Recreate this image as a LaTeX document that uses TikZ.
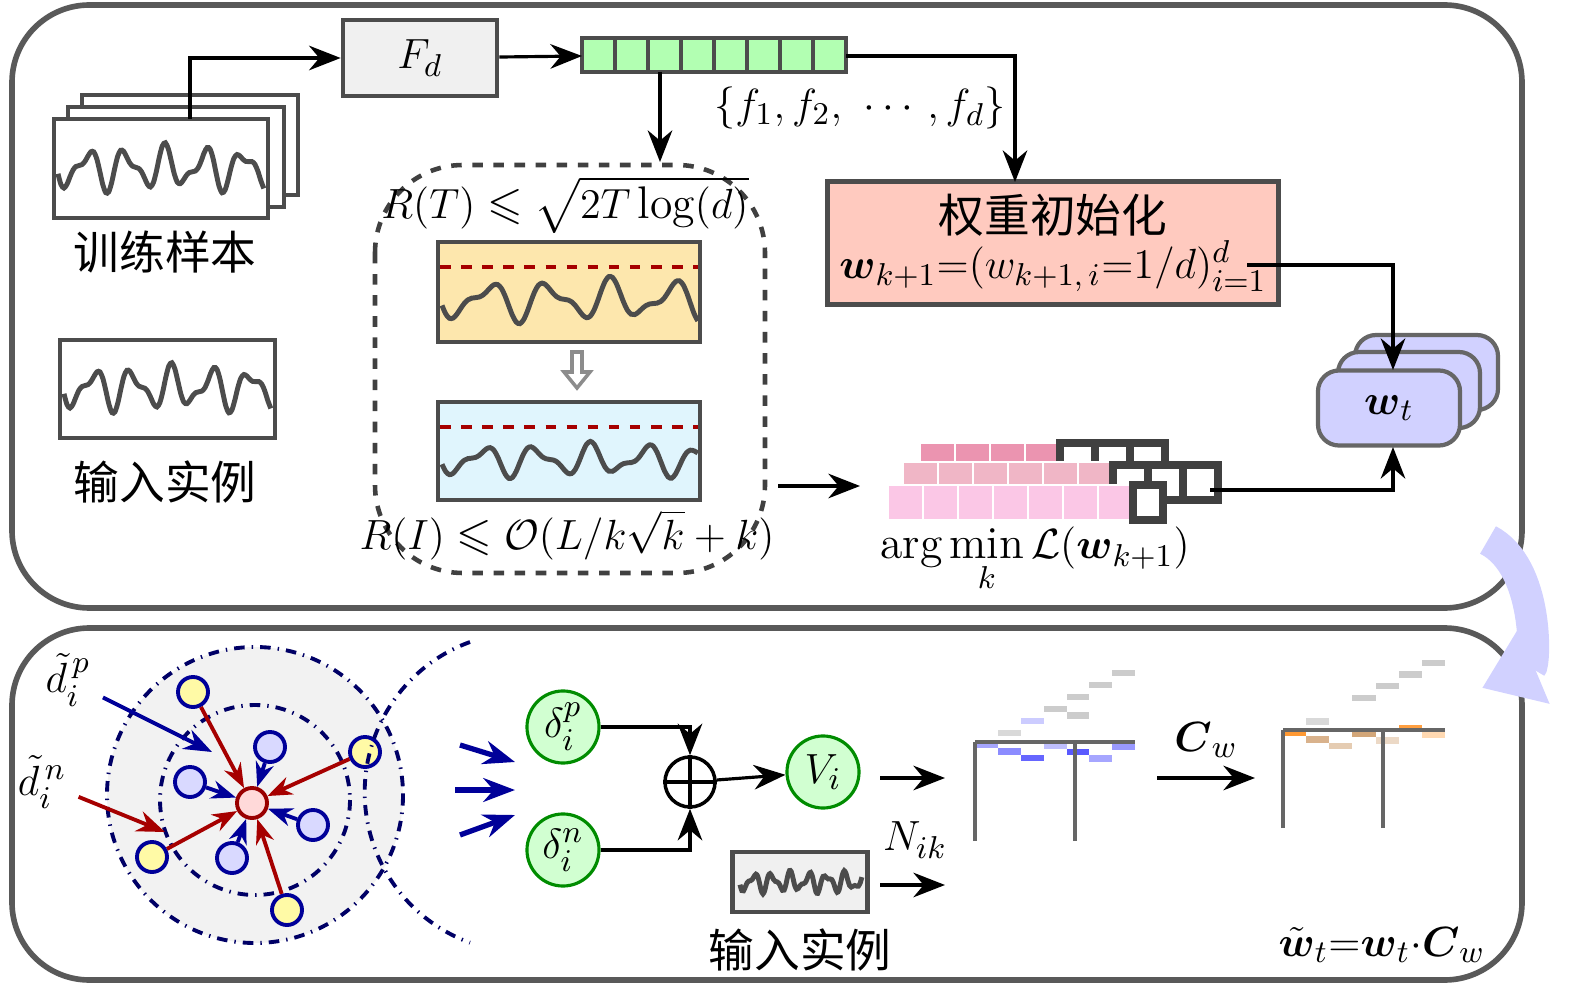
\documentclass[tikz,border=0pt]{standalone}
\usepackage{fontspec}
\newfontfamily\cjk{Noto Sans CJK SC}
\usepackage{amsmath,amssymb}
\usetikzlibrary{arrows.meta,positioning}
\tikzstyle{panel} = [draw=black!65, line width=1.6pt, rounded corners=22pt]
\tikzstyle{frame} = [draw=black!70, line width=1.3pt]
\tikzstyle{wave} = [draw=black!70, line width=1.4pt]
\tikzstyle{arr} = [-{Stealth[length=9pt,width=7pt]}, line width=0.9pt]
\tikzstyle{cnode} = [draw=green!55!black, fill=green!18, circle, line width=0.9pt, minimum size=0.72cm, inner sep=0pt]
\tikzstyle{dot} = [circle, line width=1.1pt, minimum size=0.3cm, inner sep=0pt]
\tikzstyle{zhlab} = [font=\cjk\fontsize{13}{15}\selectfont]
\newcommand{\sig}[5]{\draw[wave] plot[smooth,domain=0:1,samples=70]
  ({#1+#3*\x},{#2+#4*(0.55*sin(\x*#5)+0.3*sin(\x*#5*1.7+40))});}

\begin{document}
\begin{tikzpicture}[x=0.01cm,y=-0.01cm,font=\fontsize{13}{15}\selectfont]
\useasboundingbox (0,0) rectangle (1575,988);
% panels
\draw[panel] (12,5) rectangle (1522,608);
\draw[panel] (12,628) rectangle (1522,980);

% training samples
\draw[frame,fill=white] (82,95) rectangle (298,195);
\draw[frame,fill=white] (68,107) rectangle (284,207);
\draw[frame,fill=white] (54,119) rectangle (268,218);
\coordinate (samp) at (190,119);
\sig{58}{168}{206}{30}{1900}
\node[zhlab] (train) at (165,252) {训练样本};
\draw[frame,fill=white] (60,340) rectangle (275,438);
\sig{64}{388}{207}{30}{1900}
\node[zhlab] (inst) at (165,482) {输入实例};

% F_d and features
\node[frame,fill=black!6,minimum width=1.54cm,minimum height=0.76cm] (fd) at (420,58) {$F_d$};
\draw[arr] (samp) |- (fd);
\foreach \i in {0,...,7}
  \draw[draw=black!70,line width=0.9pt,fill=green!30] (582+\i*33,38) rectangle (615+\i*33,72);
\coordinate (bar) at (582,56);
\coordinate (barE) at (846,56);
\draw[arr] (fd) -- (bar);
\node (flab) at (860,108) {$\{f_1, f_2,\ \cdots, f_d\}$};
\coordinate (barD) at (660,72);
\coordinate (boxT) at (660,162);
\draw[arr] (barD) -- (boxT);

% regret box
\draw[dashed,line width=1.3pt,draw=black!75,rounded corners=25pt] (375,165) rectangle (765,573);
\node (rt) at (565,205) {$R(T)\leqslant\sqrt{2T\log(d)}$};
\draw[frame,fill=yellow!45!orange!30] (438,242) rectangle (700,342);
\draw[red!65!black,dashed,line width=1.2pt] (440,267) -- (698,267);
\sig{442}{300}{256}{28}{1500}
\draw[black!45,line width=1pt,fill=white] (572,352) -- (582,352) -- (582,372) -- (590,372) -- (577,388) -- (564,372) -- (572,372) -- cycle;
\draw[frame,fill=cyan!12] (438,402) rectangle (700,500);
\draw[red!65!black,dashed,line width=1.2pt] (440,427) -- (698,427);
\sig{442}{460}{256}{22}{1700}
\node (ri) at (567,535) {$R(I)\leqslant\mathcal{O}(L/k\sqrt{k}+k)$};
\coordinate (bx) at (778,486);
\coordinate (pk) at (860,486);
\draw[arr] (bx) -- (pk);

% pink stack
\foreach \i in {0,...,3}
  \draw[draw=white,fill=magenta!45!purple!45] (920+\i*35,443) rectangle (955+\i*35,462);
\foreach \i in {4,...,6}
  \draw[draw=black!75,line width=2pt,fill=white] (920+\i*35,443) rectangle (955+\i*35,470);
\foreach \i in {0,...,5}
  \draw[draw=white,fill=magenta!40!purple!30] (903+\i*35,462) rectangle (938+\i*35,485);
\foreach \i in {6,...,8}
  \draw[draw=black!75,line width=2pt,fill=white] (903+\i*35,465) rectangle (938+\i*35,500);
\foreach \i in {0,...,6}
  \draw[draw=white,fill=magenta!22] (888+\i*35,485) rectangle (923+\i*35,520);
\draw[draw=black!75,line width=2pt,fill=white] (1133,485) rectangle (1163,520);
\coordinate (pkE) at (1210,490);
\node (argm) at (1035,560) {$\arg\min\limits_{k}\mathcal{L}(\boldsymbol{w}_{k+1})$};

% weight init
\node[frame,fill=orange!35!red!25!white,minimum width=3.87cm,minimum height=1.23cm,align=center] (init) at (1053,243)
  {{\cjk 权重初始化}\\[-2pt] $\boldsymbol{w}_{k+1}{=}(w_{k+1,\,i}{=}1/d)_{i=1}^{d}$};
\coordinate (initT) at (1015,182);
\draw[arr] (barE) -| (initT);

% w_t stack
\draw[draw=black!60,line width=1.2pt,fill=blue!18,rounded corners=6pt] (1355,335) rectangle (1498,410);
\draw[draw=black!60,line width=1.2pt,fill=blue!18,rounded corners=6pt] (1338,352) rectangle (1480,428);
\node[draw=black!60,line width=1.2pt,fill=blue!18,rounded corners=6pt,minimum width=1.42cm,minimum height=0.75cm] (wt) at (1389,408) {$\boldsymbol{w}_t$};
\coordinate (initE) at (1247,265);
\coordinate (wtT) at (1393,370);
\draw[arr] (initE) -| (wtT);
\coordinate (wtB) at (1393,447);
\draw[arr] (pkE) -| (wtB);

% bend arrow between panels
\draw[line width=9pt,draw=blue!18,-{Triangle[length=16pt,width=22pt]}] (1488,540) to[bend left=65] (1482,688);

% neighbourhood
\draw[dash dot,line width=1.1pt,draw=blue!40!black,fill=black!5] (255,795) circle (148);
\draw[dash dot,line width=1.1pt,draw=blue!40!black] (255,800) circle (95);
\node[dot,draw=red!60!black,fill=red!15] (c) at (252,803) {};
\foreach \n/\p in {b1/{(270,747)},b2/{(190,782)},b3/{(313,825)},b4/{(232,858)}}
  \node[dot,draw=blue!60!black,fill=blue!15] (\n) at \p {};
\foreach \n/\p in {y1/{(193,692)},y2/{(365,752)},y3/{(152,857)},y4/{(287,910)}}
  \node[dot,draw=blue!60!black,fill=yellow!35] (\n) at \p {};
\foreach \n in {y1,y2,y3,y4}
  \draw[red!65!black,line width=1.1pt,-{Stealth[length=7pt]}] (\n) -- (c);
\foreach \n in {b1,b2,b3,b4}
  \draw[blue!60!black,line width=1.1pt,-{Stealth[length=7pt]}] (\n) -- (c);
\node (dp) at (68,680) {$\tilde{d}_i^{\,p}$};
\node (dn) at (42,782) {$\tilde{d}_i^{\,n}$};
\coordinate (dpE) at (212,752);
\coordinate (dnE) at (165,832);
\draw[blue!60!black,line width=1.1pt,-{Stealth[length=8pt]}] (dp) -- (dpE);
\draw[red!65!black,line width=1.1pt,-{Stealth[length=8pt]}] (dn) -- (dnE);

% partial ring and arrows
\draw[dash dot,line width=1.1pt,draw=blue!40!black] (470,642) arc[start angle=-110,end angle=-250,radius=160];
\foreach \a/\b in {{(460,745)}/{(515,762)},{(455,790)}/{(515,790)},{(460,835)}/{(515,815)}}
  \draw[blue!60!black,line width=1.5pt,-{Stealth[length=9pt]}] \a -- \b;

% deltas
\node[cnode] (dlp) at (563,727) {$\delta_i^p$};
\node[cnode] (dln) at (563,850) {$\delta_i^n$};
\node[circle,draw,line width=1pt,minimum size=0.5cm,inner sep=0pt] (plus) at (690,782) {};
\draw[line width=1pt] (plus.north) -- (plus.south) (plus.west) -- (plus.east);
\draw[arr] (dlp) -| (plus);
\draw[arr] (dln) -| (plus);
\node[cnode] (vi) at (823,772) {$V_i$};
\draw[arr] (plus) -- (vi);
\coordinate (m1a) at (880,778);
\coordinate (m1b) at (945,778);
\draw[arr] (m1a) -- (m1b);
\node[frame,fill=black!6,minimum width=1.35cm,minimum height=0.6cm] (sm) at (800,882) {};
\sig{740}{882}{122}{14}{2400}
\node[zhlab] (inst2) at (800,950) {输入实例};
\node (nik) at (915,840) {$N_{ik}$};
\coordinate (m2a) at (880,885);
\coordinate (m2b) at (945,885);
\draw[arr] (m2a) -- (m2b);

% matrices
\begin{scope}[shift={(975,742)},x={(0.2286cm,0.12cm)},y={(0,-0.183cm)}]
  \foreach \i/\j/\c in {3/0/black!20,4/0/black!20,5/0/black!20,6/0/black!20,0/0/blue!35,1/0/black!15,
     2/0/blue!20,4/1/black!20,1/1/blue!45,2/2/blue!60,3/2/blue!25,4/3/blue!65,5/4/blue!35,6/4/blue!40}
    \fill[\c] (\i,\j) rectangle (\i+1,\j+1);
  \draw[black!60,line width=1pt] (0,0) grid (7,10);
\end{scope}
\begin{scope}[shift={(1283,730)},x={(0.2314cm,0.117cm)},y={(0,-0.18cm)}]
  \foreach \i/\j/\c in {3/0/black!20,4/0/black!20,5/0/black!20,6/0/black!20,0/0/orange!80,1/0/black!15,
     1/1/brown!60,2/2/brown!40,3/2/brown!70,4/3/brown!30,5/3/orange!75,6/4/orange!30}
    \fill[\c] (\i,\j) rectangle (\i+1,\j+1);
  \draw[black!60,line width=1pt] (0,0) grid (7,10);
\end{scope}
\coordinate (c1) at (1157,778);
\coordinate (c2) at (1255,778);
\draw[arr] (c1) -- node[above=2pt] {$\boldsymbol{C}_w$} (c2);
\node (res) at (1382,945) {$\tilde{\boldsymbol{w}}_t{=}\boldsymbol{w}_t{\cdot}\boldsymbol{C}_w$};
\end{tikzpicture}
\end{document}
